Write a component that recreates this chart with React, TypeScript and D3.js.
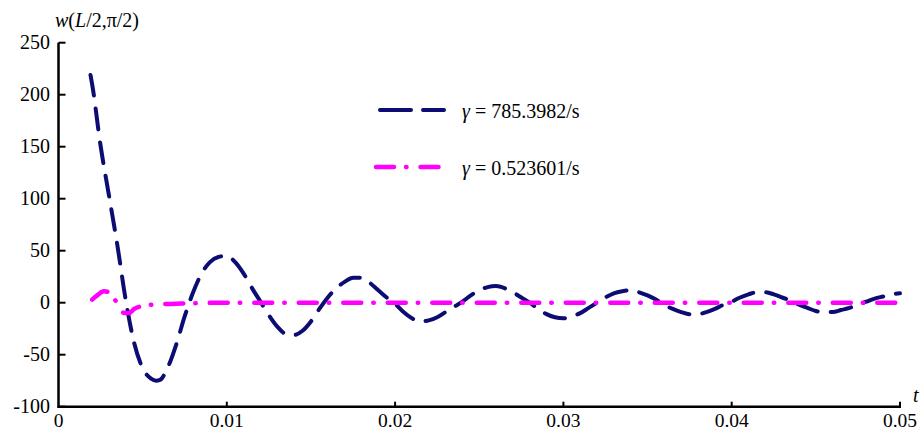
import React from "react"
import * as d3 from "d3"

// time axis (s)
const tBlue = [
  0.0019, 0.002, 0.0025, 0.003, 0.0035, 0.004, 0.0045, 0.005, 0.0055, 0.0058, 0.006, 0.0065, 0.007, 0.0075,
  0.008, 0.0085, 0.009, 0.0095, 0.01, 0.0105, 0.011, 0.0115, 0.012, 0.0125, 0.013, 0.0135, 0.014, 0.0145,
  0.015, 0.0155, 0.016, 0.0165, 0.017, 0.0175, 0.018, 0.0185, 0.019, 0.0195, 0.02, 0.0205, 0.021, 0.0215,
  0.022, 0.0225, 0.023, 0.0235, 0.024, 0.0245, 0.025, 0.0255, 0.026, 0.0265, 0.027, 0.0275, 0.028, 0.0285,
  0.029, 0.0295, 0.03, 0.0305, 0.031, 0.0315, 0.032, 0.0325, 0.033, 0.0335, 0.034, 0.0345, 0.035, 0.0355,
  0.036, 0.0365, 0.037, 0.0375, 0.038, 0.0385, 0.039, 0.0395, 0.04, 0.0405, 0.041, 0.0415, 0.042, 0.0425,
  0.043, 0.0435, 0.044, 0.0445, 0.045, 0.0455, 0.046, 0.0465, 0.047, 0.0475, 0.048, 0.0485, 0.049, 0.0495,
  0.05,
]
// gamma = 785.3982/s
const wBlue = [
  219, 210, 151, 103, 55, 2, -39, -63, -73, -75, -74.5, -62, -40, -13,
  10, 28, 39, 44, 45, 39, 28, 14, 1, -12, -23, -30, -31, -27,
  -18, -6, 5, 14, 20, 24, 24, 19, 12, 5, -1, -9, -15, -18,
  -17, -14, -9, -4, 1, 7, 12, 15, 16, 14, 10, 5, 0, -6,
  -11, -14, -15, -13, -10, -5, 0, 5, 9, 11, 12, 10, 7, 3,
  -2, -6, -9, -11, -11, -9, -6, -2, 1, 5, 8, 10, 10, 8,
  5, 2, -2, -5, -8, -9, -9, -7, -5, -2, 1, 4, 6, 8,
  9,
]

// gamma = 0.523601/s
const tPink = [0.002, 0.0023, 0.0027, 0.003, 0.0033, 0.0036, 0.0039, 0.0042, 0.0045, 0.005, 0.0055, 0.006, 0.007, 0.008, 0.01, 0.02, 0.03, 0.04, 0.05]
const wPink = [3, 7, 11, 10, 4, -3, -10, -10, -6, -3, -2, -1.5, -1, -0.5, 0, 0, 0, 0, 0]

const xTicks = [0, 0.01, 0.02, 0.03, 0.04, 0.05]
const yTicks = [-100, -50, 0, 50, 100, 150, 200, 250]

const legendLabels = ["785.3982/s", "0.523601/s"]

const W = 922
const H = 432
const font = "'Liberation Serif', 'Times New Roman', serif"
const navy = "#0c0c72"
const pink = "#ff00ff"

export default function App() {
  const x = d3.scaleLinear().domain([0, 0.05]).range([58.5, 900])
  const y = d3.scaleLinear().domain([-100, 250]).range([406.7, 42.7])

  const line = d3
    .line<[number, number]>()
    .x((d) => x(d[0]))
    .y((d) => y(d[1]))
    .curve(d3.curveMonotoneX)

  const blue = tBlue.map((t, i) => [t, wBlue[i]] as [number, number])
  const magenta = tPink.map((t, i) => [t, wPink[i]] as [number, number])

  const x0 = x(0)
  const yBottom = y(-100)

  return (
    <svg width={W} height={H} style={{ position: "absolute", left: 0, top: 0, background: "#fff" }} fontFamily={font}>
      {/* curves */}
      <path d={line(blue) ?? ""} fill="none" stroke={navy} strokeWidth={4} strokeDasharray="21 13" strokeLinecap="round" />
      <path d={line(magenta) ?? ""} fill="none" stroke={pink} strokeWidth={4.5} strokeDasharray="18 12 0.5 14" strokeLinecap="round" />

      {/* axes */}
      <line x1={x0} x2={x0} y1={y(250)} y2={yBottom + 1} stroke="#000" strokeWidth={2.5} />
      <line x1={x0 - 1} x2={x(0.05) + 1} y1={yBottom} y2={yBottom} stroke="#000" strokeWidth={2.5} />
      {yTicks.map((v) => (
        <g key={v}>
          <line x1={x0} x2={x0 + 7} y1={y(v)} y2={y(v)} stroke="#000" strokeWidth={2} />
          <text x={50} y={y(v) + 6.5} textAnchor="end" fontSize={20}>
            {v}
          </text>
        </g>
      ))}
      {xTicks.map((v) => (
        <g key={v}>
          {v > 0 && <line x1={x(v)} x2={x(v)} y1={yBottom} y2={yBottom - 5} stroke="#000" strokeWidth={2} />}
          <text x={x(v)} y={427} textAnchor="middle" fontSize={19.5}>
            {v}
          </text>
        </g>
      ))}

      {/* axis titles */}
      <text x={55} y={27} fontSize={20}>
        <tspan fontStyle="italic">w</tspan>(<tspan fontStyle="italic">L</tspan>/2,π/2)
      </text>
      <text x={913} y={402} fontSize={20} fontStyle="italic">
        t
      </text>

      {/* legend */}
      <line x1={380} x2={444} y1={110} y2={110} stroke={navy} strokeWidth={4} strokeDasharray="31 12" strokeLinecap="round" />
      <line x1={376} x2={448} y1={167} y2={167} stroke={pink} strokeWidth={4.5} strokeDasharray="18 12 0.5 14" strokeLinecap="round" />
      {legendLabels.map((s, i) => (
        <text key={s} x={462} y={118 + i * 57} fontSize={20}>
          <tspan fontStyle="italic">γ</tspan> = {s}
        </text>
      ))}
    </svg>
  )
}
